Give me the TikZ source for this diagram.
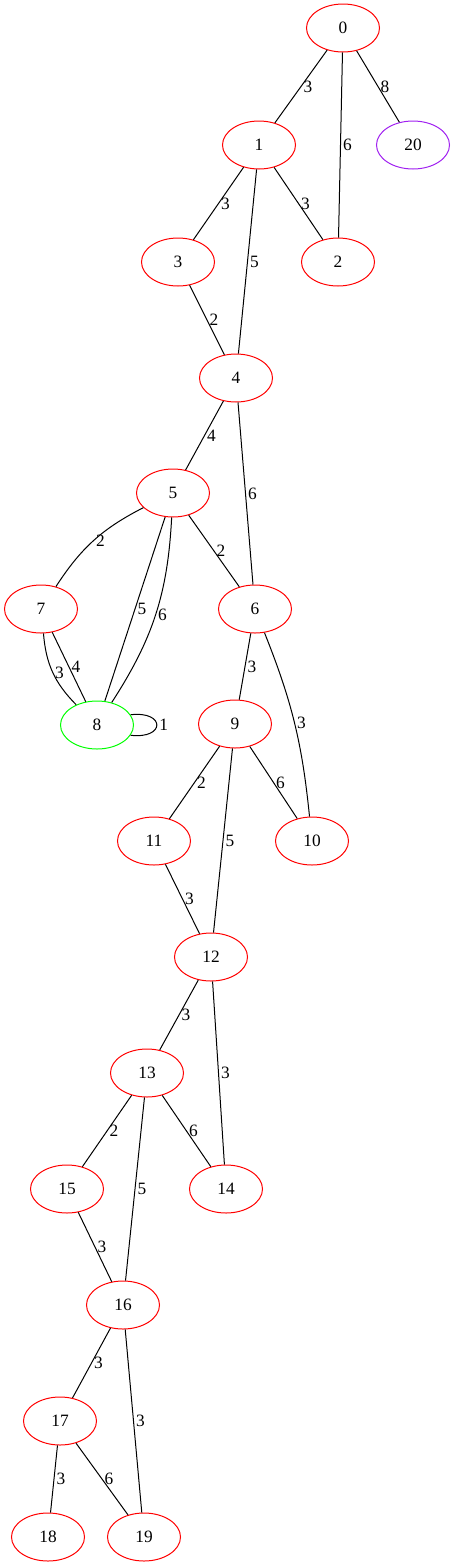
\documentclass[tikz,border=0pt]{standalone}
\usepackage{fontspec}
\setmainfont{Liberation Serif}
\usetikzlibrary{shapes.geometric}

\definecolor{gvpurple}{RGB}{160,32,240}

\begin{document}
\begin{tikzpicture}[x=0.75pt, y=-0.75pt, font=\fontsize{13}{15}\selectfont,
    vertex/.style={ellipse, draw=red, line width=0.75pt, minimum width=54.75pt, minimum height=36pt, inner sep=0pt},
    link/.style={line width=0.75pt},
    weight/.style={right, inner sep=1.5pt}]
    \useasboundingbox (0,0) rectangle (455,1567);

    % Draw vertices
    \foreach \n/\x/\y in {0/343/28, 1/259/145, 3/178/262, 2/338/262, 4/236/378, 5/173/493, 7/41/609, 6/255/609, 9/235/724, 11/154/841, 10/312/841, 12/211/957, 13/147/1073, 15/67/1189, 14/226/1189, 16/123/1305, 17/60/1421, 18/48/1537, 19/144/1537} {
      \node[vertex] (v\n) at (\x,\y) {\n};
    }
    \node[vertex, draw=green] (v8) at (97,725) {8};
    \node[vertex, draw=gvpurple] (v20) at (413,145) {20};

    % Straight edges with their weights
    \foreach \a/\b/\w in {0/1/3, 0/2/6, 0/20/8, 1/3/3, 1/2/3, 1/4/5, 3/4/2, 4/5/4, 4/6/6, 5/8/5, 5/6/2, 7/8/4, 6/9/3, 9/11/2, 9/12/5, 9/10/6, 11/12/3, 12/13/3, 12/14/3, 13/15/2, 13/16/5, 13/14/6, 15/16/3, 16/17/3, 16/19/3, 17/18/3, 17/19/6} {
      \draw[link] (v\a) -- node[weight] {\w} (v\b);
    }

    % Curved edges
    \draw[link] (v5) to[bend right=15] node[weight] {2} (v7);
    \draw[link] (v5) to[bend left=15] node[weight] {6} (v8);
    \draw[link] (v7) to[bend right=20] node[weight] {3} (v8);
    \draw[link] (v6) to[bend left=8] node[weight] {3} (v10);

    % Self loop
    \draw[link] (v8.17) .. controls +(35,-4) and +(35,4) .. node[weight] {1} (v8.-17);
\end{tikzpicture}
\end{document}
